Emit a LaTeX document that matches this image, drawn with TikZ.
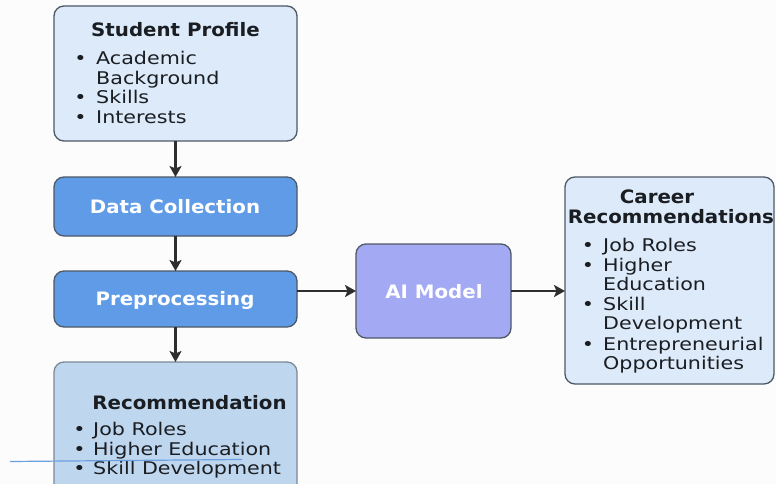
\documentclass[tikz,border=0pt]{standalone}
\usepackage{fontspec}
\usetikzlibrary{arrows.meta}
\newfontfamily\itemfont{DejaVu Sans}[FakeStretch=1.18]
\newfontfamily\headfont{DejaVu Sans}[FakeStretch=1.07]
\definecolor{bgc}{HTML}{FCFCFC}
\definecolor{paleblue}{HTML}{DCEAF9}
\definecolor{midblue}{HTML}{5F9BE7}
\definecolor{recblue}{HTML}{BFD6EF}
\definecolor{lavender}{HTML}{A3A9F3}
\definecolor{edge}{HTML}{4E5966}
\definecolor{softedge}{HTML}{7C8997}
\definecolor{ink}{HTML}{1A1D21}
\definecolor{arrowc}{HTML}{2E2E2E}
\definecolor{strokeblue}{HTML}{6AA0E0}
\tikzset{
  box/.style={draw=edge, line width=1.3pt, rounded corners=10pt, inner sep=0pt, outer sep=0pt},
  head/.style={font=\headfont\bfseries\fontsize{18.5}{21}\selectfont, text=ink, inner sep=0pt},
  whitehead/.style={head, text=white},
  item/.style={font=\itemfont\fontsize{17.5}{20}\selectfont, text=ink, inner sep=0pt, anchor=base west},
  bul/.style={font=\itemfont\fontsize{17.5}{20}\selectfont, text=ink, inner sep=0pt, anchor=base},
  arr/.style={draw=arrowc, line width=2.2pt, -{Stealth[length=11pt,width=12pt,inset=2.5pt]}},
}
\begin{document}
\begin{tikzpicture}[x=1pt,y=-1pt]
\clip (0,0) rectangle (776,484);
\fill[bgc] (0,0) rectangle (776,484);

% boxes
\node[box, fill=paleblue, minimum width=243pt, minimum height=135pt] (profile) at (175.5,73.5) {};
\node[box, fill=midblue, minimum width=243pt, minimum height=59pt] (datacol) at (175.5,206.5) {};
\node[box, fill=midblue, minimum width=243pt, minimum height=56pt] (prep) at (175.5,299) {};
\node[box, draw=softedge, fill=recblue, minimum width=243pt, minimum height=150pt] (rec) at (175.5,437) {};
\node[box, fill=lavender, minimum width=155pt, minimum height=94pt] (ai) at (433.5,291) {};
\node[box, fill=paleblue, minimum width=209pt, minimum height=207pt] (career) at (669.5,280.5) {};

% student profile
\node[head, anchor=base] (ptitle) at (175.5,36.5) {Student Profile};
\node[bul] (pb1) at (80.5,65) {•};
\node[item] (p1) at (96,65) {Academic};
\node[item] (p2) at (96,84.5) {Background};
\node[bul] (pb3) at (80.5,104) {•};
\node[item] (p3) at (96,104) {Skills};
\node[bul] (pb4) at (80.5,123.5) {•};
\node[item] (p4) at (96,123.5) {Interests};

% process steps
\node[whitehead, anchor=base] (dtext) at (175,213.5) {Data Collection};
\node[whitehead, anchor=base] (ptext) at (175,305) {Preprocessing};
\node[whitehead, anchor=base] (aitext) at (434,298) {AI Model};

% recommendation
\node[head, anchor=base] (rtitle) at (189.5,409) {Recommendation};
\node[bul] (rb1) at (79.5,435) {•};
\node[item] (r1) at (93,435) {Job Roles};
\node[bul] (rb2) at (79.5,455) {•};
\node[item] (r2) at (93,455) {Higher Education};
\node[bul] (rb3) at (79.5,474.5) {•};
\node[item] (r3) at (93,474.5) {Skill Development};

% career recommendations
\node[head, anchor=base] (ctitle1) at (657,203) {Career};
\node[head, anchor=base] (ctitle2) at (671,223) {Recommendations};
\node[bul] (cb1) at (588,251.5) {•};
\node[item] (c1) at (603,251.5) {Job Roles};
\node[bul] (cb2) at (588,271.5) {•};
\node[item] (c2) at (603,271.5) {Higher};
\node[item] (c3) at (603,290.5) {Education};
\node[bul] (cb4) at (588,310) {•};
\node[item] (c4) at (603,310) {Skill};
\node[item] (c5) at (603,329.5) {Development};
\node[bul] (cb6) at (588,350) {•};
\node[item] (c6) at (603,350) {Entrepreneurial};
\node[item] (c7) at (603,369.5) {Opportunities};

% connectors
\draw[arr] (profile) -- (datacol);
\draw[arr] (datacol) -- (prep);
\draw[arr] (prep) -- (rec);
\draw[arr] (prep.east |- ai.west) -- (ai.west);
\draw[arr] (ai.east) -- (ai.east -| career.west);

% stray pen stroke
\coordinate (s1) at (10,461.5);
\coordinate (s2) at (242,459.5);
\draw[strokeblue, line width=1.2pt] (s1) -- (s2);
\end{tikzpicture}
\end{document}
